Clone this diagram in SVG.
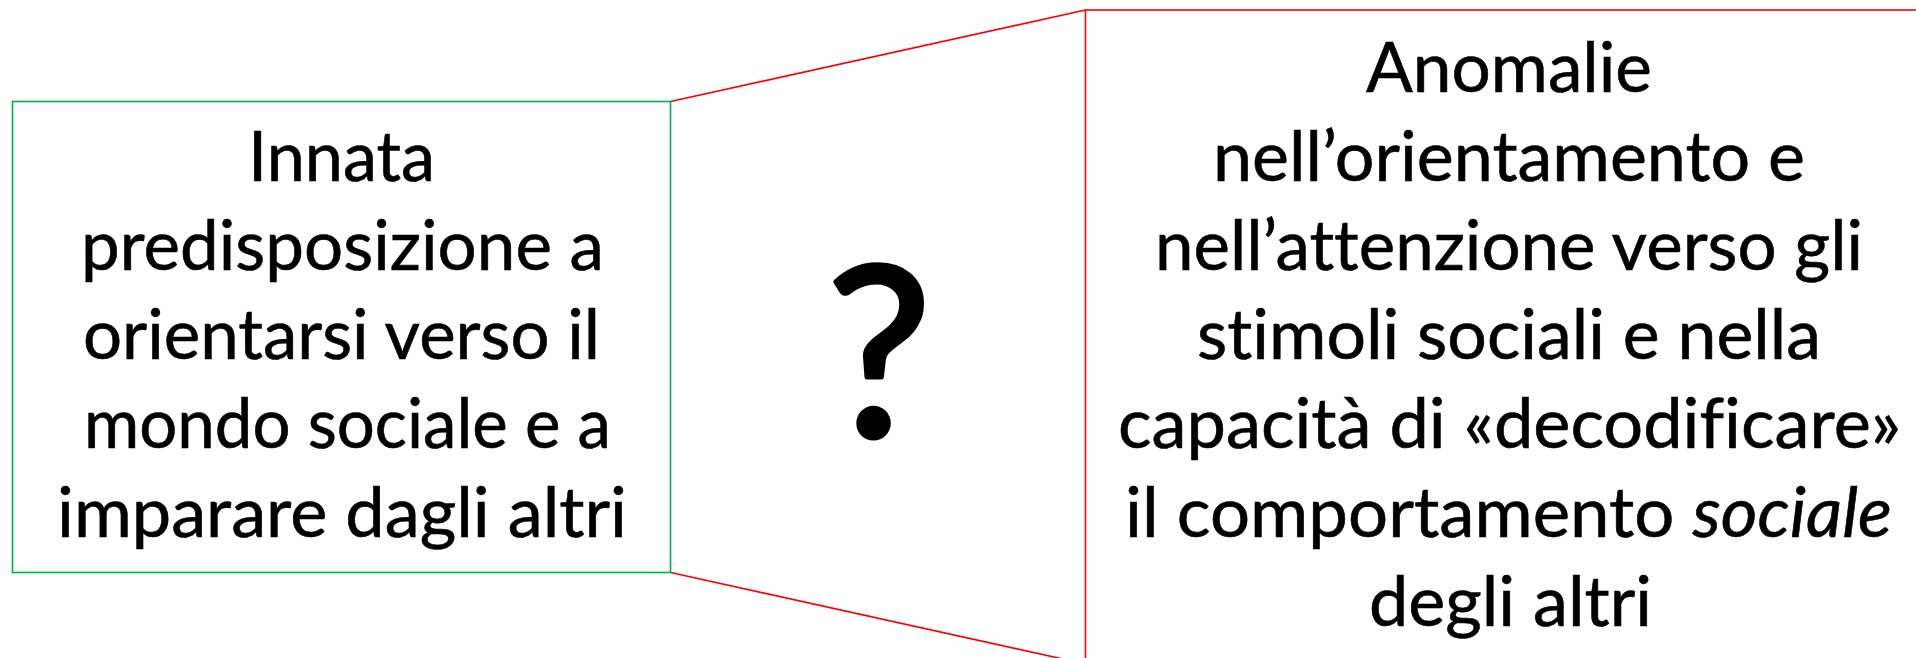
<svg xmlns="http://www.w3.org/2000/svg" width="1916" height="658" viewBox="0 0 1916 658">
<style>
.t{font-family:Lato,"Open Sans","Liberation Sans",sans-serif;font-size:69px;fill:#000;text-anchor:middle;font-variant-ligatures:none;font-feature-settings:"liga" 0,"clig" 0;stroke:#000;stroke-width:0.6}
.q{font-family:Lato,"Open Sans","Liberation Sans",sans-serif;font-size:236px;fill:#000;stroke:#000;stroke-width:5;stroke-linejoin:round;text-anchor:middle}
.gbox{fill:#fff;stroke:#00B050;stroke-width:1.6}
.rbox{fill:#fff;stroke:#FF0000;stroke-width:1.6}
.conn{fill:none;stroke:#FF0000;stroke-width:1.6}
</style>
<rect width="1916" height="658" fill="#fff"/>
<g id="connectors">
<line class="conn" x1="670.5" y1="101.5" x2="1085.5" y2="10"/>
<line class="conn" x1="670.5" y1="572.5" x2="1085.5" y2="664"/>
</g>
<g id="left">
<rect class="gbox" x="12.5" y="101.5" width="658" height="471"/>
<text class="t" x="341.5" y="181" textLength="187" lengthAdjust="spacingAndGlyphs">Innata</text>
<text class="t" x="342.5" y="270" textLength="523" lengthAdjust="spacingAndGlyphs">predisposizione a</text>
<text class="t" x="341.5" y="359" textLength="517" lengthAdjust="spacingAndGlyphs">orientarsi verso il</text>
<text class="t" x="347.5" y="448" textLength="527" lengthAdjust="spacingAndGlyphs">mondo sociale e a</text>
<text class="t" x="342" y="537" textLength="570" lengthAdjust="spacingAndGlyphs">imparare dagli altri</text>
</g>
<g id="question">
<text class="q" x="879" y="436">?</text>
</g>
<g id="right">
<rect class="rbox" x="1085.5" y="10" width="900" height="700"/>
<text class="t" x="1509" y="92" textLength="286" lengthAdjust="spacingAndGlyphs">Anomalie</text>
<text class="t" x="1509" y="181" textLength="592" lengthAdjust="spacingAndGlyphs">nell’orientamento e</text>
<text class="t" x="1509" y="270" textLength="708" lengthAdjust="spacingAndGlyphs">nell’attenzione verso gli</text>
<text class="t" x="1509" y="359" textLength="624" lengthAdjust="spacingAndGlyphs">stimoli sociali e nella</text>
<text class="t" x="1509.5" y="448" textLength="783" lengthAdjust="spacingAndGlyphs">capacità di «decodificare»</text>
<text class="t" x="1508.5" y="537" textLength="767" lengthAdjust="spacingAndGlyphs">il comportamento <tspan font-style="italic">sociale</tspan></text>
<text class="t" x="1510.5" y="626" textLength="283" lengthAdjust="spacingAndGlyphs">degli altri</text>
</g>
</svg>
